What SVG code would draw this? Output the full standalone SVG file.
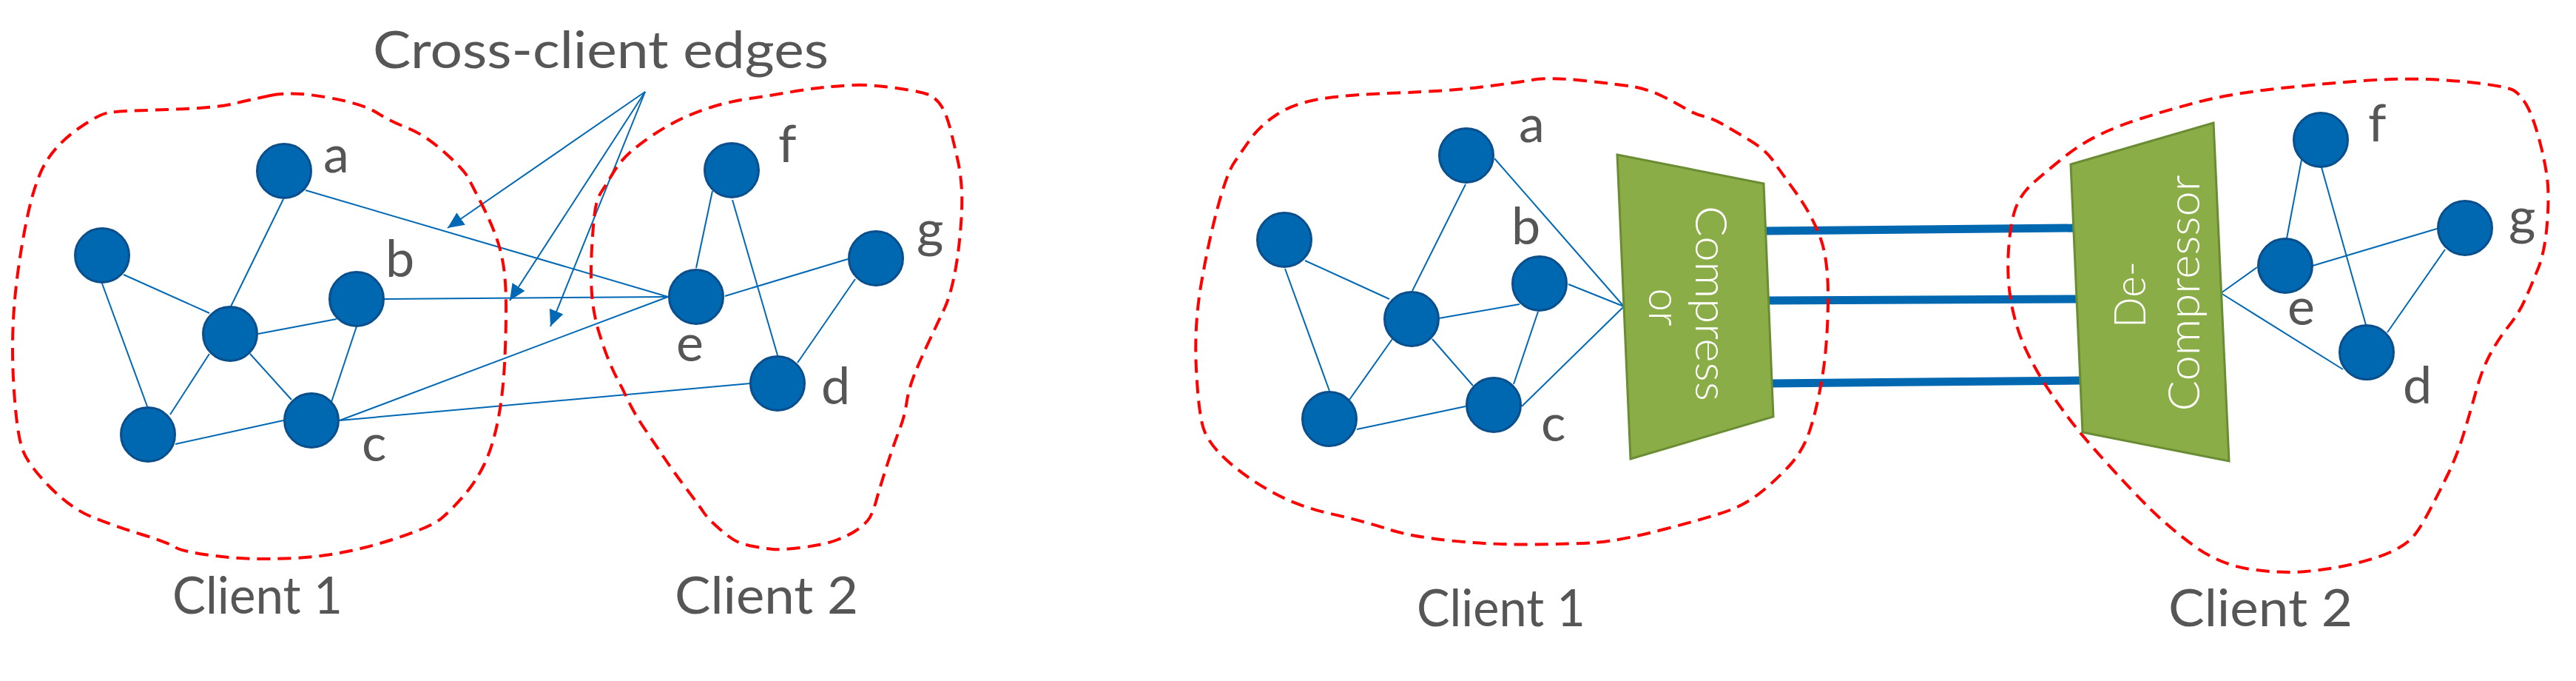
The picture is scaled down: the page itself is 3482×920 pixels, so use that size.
<svg xmlns="http://www.w3.org/2000/svg" width="3482" height="920" viewBox="0 0 3482 920">
<style>
.bg{fill:#ffffff}
.node{fill:#0067b1;stroke:#0a4f8c;stroke-width:3}
.edge{stroke:#0068b5;stroke-width:2;fill:none}
.thick{stroke:#0067b1;stroke-width:11;fill:none}
.blob{fill:none;stroke:#ff0000;stroke-width:4;stroke-dasharray:18 10}
.lbl{font-family:Lato,"Open Sans","Liberation Sans",sans-serif;font-weight:400;font-size:70px;fill:#565656}
.title{font-family:Lato,"Open Sans","Liberation Sans",sans-serif;font-weight:400;font-size:70px;fill:#565656}
.box{fill:#8bad47;stroke:#6a8c33;stroke-width:3}
.boxtxt{font-family:Lato,"Open Sans","Liberation Sans",sans-serif;font-weight:300;font-size:60px;fill:#ffffff}
</style>
<defs>
<marker id="ah" viewBox="0 0 22 20" refX="22" refY="10" markerWidth="22" markerHeight="20" markerUnits="userSpaceOnUse" orient="auto">
<path d="M0,0 L22,10 L0,20 Z" fill="#0068b5"/>
</marker>
</defs>
<rect class="bg" x="0" y="0" width="3482" height="920"/>

<g id="connectors">
<line class="edge" x1="167" y1="371" x2="283" y2="423"/>
<line class="edge" x1="138" y1="383" x2="199" y2="549"/>
<line class="edge" x1="383" y1="269" x2="312" y2="414"/>
<line class="edge" x1="349" y1="451" x2="455" y2="431"/>
<line class="edge" x1="283" y1="478" x2="230" y2="560"/>
<line class="edge" x1="338" y1="478" x2="394" y2="540"/>
<line class="edge" x1="482" y1="441" x2="448" y2="543"/>
<line class="edge" x1="237" y1="600" x2="383" y2="568"/>
<line class="edge" x1="413" y1="257" x2="903" y2="401"/>
<line class="edge" x1="520" y1="404" x2="903" y2="401"/>
<line class="edge" x1="459" y1="568" x2="903" y2="401"/>
<line class="edge" x1="459" y1="568" x2="1014" y2="518"/>
<line class="edge" x1="941" y1="362" x2="963" y2="258"/>
<line class="edge" x1="990" y1="270" x2="1051" y2="480"/>
<line class="edge" x1="980" y1="400" x2="1146" y2="350"/>
<line class="edge" x1="1156" y1="377" x2="1078" y2="490"/>
<line class="edge" x1="872" y1="124" x2="605" y2="308" marker-end="url(#ah)"/>
<line class="edge" x1="872" y1="124" x2="689" y2="406" marker-end="url(#ah)"/>
<line class="edge" x1="872" y1="124" x2="744" y2="441" marker-end="url(#ah)"/>
<line class="edge" x1="1764" y1="352" x2="1878" y2="404"/>
<line class="edge" x1="1737" y1="363" x2="1797" y2="528"/>
<line class="edge" x1="1981" y1="249" x2="1909" y2="393"/>
<line class="edge" x1="1945" y1="430" x2="2054" y2="411"/>
<line class="edge" x1="1882" y1="458" x2="1824" y2="540"/>
<line class="edge" x1="1936" y1="458" x2="1991" y2="521"/>
<line class="edge" x1="2079" y1="421" x2="2046" y2="519"/>
<line class="edge" x1="1834" y1="580" x2="1981" y2="549"/>
<line class="edge" x1="2020" y1="214" x2="2195" y2="414"/>
<line class="edge" x1="2120" y1="384" x2="2195" y2="414"/>
<line class="edge" x1="2057" y1="549" x2="2195" y2="414"/>
<line class="thick" x1="2386" y1="312" x2="2808" y2="308"/>
<line class="thick" x1="2389" y1="406" x2="2809" y2="404"/>
<line class="thick" x1="2393" y1="518" x2="2812" y2="514"/>
<line class="edge" x1="3091" y1="322" x2="3111" y2="216"/>
<line class="edge" x1="3138" y1="226" x2="3198" y2="439"/>
<line class="edge" x1="3126" y1="359" x2="3294" y2="309"/>
<line class="edge" x1="3305" y1="337" x2="3227" y2="449"/>
<line class="edge" x1="3002" y1="396" x2="3051" y2="361"/>
<line class="edge" x1="3002" y1="396" x2="3167" y2="499"/>
</g>

<g id="client-boundaries">
<path id="blob-left-c1" class="blob" d="M365.5,129 Q394,123 442,131.5 Q490,140 509,152 Q528,164 551,173 Q574,182 600.5,205.5 Q627,229 633,240.5 Q639,252 652.5,278.5 Q666,305 673.5,328.5 Q681,352 683,381.5 Q685,411 683,469.5 Q681,528 673.5,566 Q666,604 654.5,627.5 Q643,651 627.5,669 Q612,687 597,700 Q582,713 520.5,732 Q459,751 398,754 Q337,757 291,751 Q245,745 237.5,739.5 Q230,734 191.5,722 Q153,710 124.5,698.5 Q96,687 67,657.5 Q38,628 30.5,607.5 Q23,587 19,528 Q15,469 19,416.5 Q23,364 34.5,305 Q46,246 61.5,220 Q77,194 105.5,174 Q134,154 147.5,152 Q161,150 226,148 Q291,146 314,140.5 Q337,135 365.5,129 Z"/>
<path id="blob-left-c2" class="blob" d="M1154,115 Q1175,114 1211.5,119 Q1248,124 1257.5,129 Q1267,134 1273.5,145 Q1280,156 1285,176 Q1290,196 1294.5,216 Q1299,236 1300,258.5 Q1301,281 1298,314.5 Q1295,348 1289.5,374.5 Q1284,401 1276.5,417 Q1269,433 1256.5,459.5 Q1244,486 1236,506 Q1228,526 1225.5,544 Q1223,562 1216,580 Q1209,598 1199.5,627 Q1190,656 1184.5,676 Q1179,696 1173,703 Q1167,710 1157.5,716.5 Q1148,723 1131,729.5 Q1114,736 1085,739.5 Q1056,743 1044.5,742 Q1033,741 1018,738 Q1003,735 995,731 Q987,727 972,714 Q957,701 951,692 Q945,683 928,660.5 Q911,638 897.5,618 Q884,598 870.5,578 Q857,558 848.5,540 Q840,522 835,513 Q830,504 823.5,488.5 Q817,473 809.5,448.5 Q802,424 800,397 Q798,370 800,334.5 Q802,299 804.5,283.5 Q807,268 813,259 Q819,250 828.5,234 Q838,218 851.5,206 Q865,194 884,181.5 Q903,169 922,160 Q941,151 964,144 Q987,137 1014,133 Q1041,129 1067.5,124.5 Q1094,120 1113.5,118 Q1133,116 1154,115 Z"/>
<path id="blob-right-c1" class="blob" d="M2071,108 Q2095,104 2141.5,109 Q2188,114 2207,117 Q2226,120 2245,129 Q2264,138 2277,146 Q2290,154 2302.5,157 Q2315,160 2328,167.5 Q2341,175 2363.5,188.5 Q2386,202 2395.5,215.5 Q2405,229 2427,259.5 Q2449,290 2460.5,321 Q2472,352 2471,410.5 Q2470,469 2463,510.5 Q2456,552 2446.5,581 Q2437,610 2417.5,630.5 Q2398,651 2379,666 Q2360,681 2337.5,689.5 Q2315,698 2251.5,714.5 Q2188,731 2156,733 Q2124,735 2070,735.5 Q2016,736 1961.5,730.5 Q1907,725 1875,714.5 Q1843,704 1798.5,694 Q1754,684 1719,664.5 Q1684,645 1658.5,622 Q1633,599 1626.5,578 Q1620,557 1617,498.5 Q1614,440 1623.5,384.5 Q1633,329 1645.5,282 Q1658,235 1668,220 Q1678,205 1690.5,187.5 Q1703,170 1725.5,155 Q1748,140 1783,134 Q1818,128 1888,125.5 Q1958,123 2002.5,117.5 Q2047,112 2071,108 Z"/>
<path id="blob-right-c2" class="blob" d="M3195,109 Q3264,104 3326.5,110 Q3389,116 3398.5,122.5 Q3408,129 3416,143.5 Q3424,158 3432,187.5 Q3440,217 3443,240.5 Q3446,264 3443,302 Q3440,340 3430.5,363.5 Q3421,387 3413,405 Q3405,423 3391,440.5 Q3377,458 3366,478.5 Q3355,499 3347,528 Q3339,557 3330,586.5 Q3321,616 3308,642.5 Q3295,669 3282.5,692.5 Q3270,716 3261,726 Q3252,736 3233,745 Q3214,754 3182.5,761.5 Q3151,769 3117,772 Q3083,775 3042,769 Q3001,763 2966.5,738 Q2932,713 2904,685 Q2876,657 2844.5,622 Q2813,587 2797.5,566.5 Q2782,546 2766.5,522.5 Q2751,499 2738.5,472.5 Q2726,446 2719.5,413.5 Q2713,381 2714.5,346 Q2716,311 2722.5,287.5 Q2729,264 2749,246.5 Q2769,229 2791,211.5 Q2813,194 2838,182 Q2863,170 2894.5,160 Q2926,150 2966.5,139 Q3007,128 3066.5,121 Q3126,114 3195,109 Z"/>
</g>

<g id="title"><text class="title" x="504" y="92" textLength="616" lengthAdjust="spacingAndGlyphs">Cross-client edges</text></g>

<g id="L-a"><circle class="node" cx="384" cy="231" r="36.5"/><text class="lbl" x="437" y="233">a</text></g>
<g id="L-n1"><circle class="node" cx="138" cy="345" r="36.5"/></g>
<g id="L-b"><circle class="node" cx="482" cy="404" r="36.5"/><text class="lbl" x="521" y="374">b</text></g>
<g id="L-n2"><circle class="node" cx="311" cy="451" r="36.5"/></g>
<g id="L-n3"><circle class="node" cx="200" cy="587" r="36.5"/></g>
<g id="L-c"><circle class="node" cx="421" cy="568" r="36.5"/><text class="lbl" x="489" y="623">c</text></g>
<g id="L-e"><circle class="node" cx="941" cy="401" r="36.5"/><text class="lbl" x="914" y="488">e</text></g>
<g id="L-f"><circle class="node" cx="989" cy="230" r="36.5"/><text class="lbl" x="1052" y="219">f</text></g>
<g id="L-g"><circle class="node" cx="1184" cy="349" r="36.5"/><text class="lbl" x="1239" y="334">g</text></g>
<g id="L-d"><circle class="node" cx="1051" cy="518" r="36.5"/><text class="lbl" x="1110" y="546">d</text></g>
<g id="L-client1"><text class="lbl" x="233" y="829" textLength="230" lengthAdjust="spacingAndGlyphs">Client 1</text></g>
<g id="L-client2"><text class="lbl" x="912" y="829" textLength="248" lengthAdjust="spacingAndGlyphs">Client 2</text></g>

<g id="R-a"><circle class="node" cx="1982" cy="210" r="36.5"/><text class="lbl" x="2053" y="192">a</text></g>
<g id="R-n1"><circle class="node" cx="1736" cy="324" r="36.5"/></g>
<g id="R-b"><circle class="node" cx="2081" cy="383" r="36.5"/><text class="lbl" x="2043" y="330">b</text></g>
<g id="R-n2"><circle class="node" cx="1908" cy="431" r="36.5"/></g>
<g id="R-n3"><circle class="node" cx="1797" cy="566" r="36.5"/></g>
<g id="R-c"><circle class="node" cx="2019" cy="547" r="36.5"/><text class="lbl" x="2083" y="596">c</text></g>
<g id="compressor"><path class="box" d="M2186,209 L2384,248 L2397,563 L2204,620 Z"/>
<text class="boxtxt" transform="translate(2292,410) rotate(90)" text-anchor="middle" textLength="264" lengthAdjust="spacingAndGlyphs">Compress</text>
<text class="boxtxt" transform="translate(2229,415) rotate(90)" text-anchor="middle" textLength="51" lengthAdjust="spacingAndGlyphs">or</text></g>
<g id="decompressor"><path class="box" d="M2799,222 L2992,166 L3013,623 L2815,584 Z"/>
<text class="boxtxt" transform="translate(2900,398) rotate(-90)" text-anchor="middle" textLength="90" lengthAdjust="spacingAndGlyphs">De-</text>
<text class="boxtxt" transform="translate(2973,396) rotate(-90)" text-anchor="middle" textLength="319" lengthAdjust="spacingAndGlyphs">Compressor</text></g>
<g id="R-f"><circle class="node" cx="3137" cy="189" r="36.5"/><text class="lbl" x="3201" y="191">f</text></g>
<g id="R-e"><circle class="node" cx="3089" cy="359" r="36.5"/><text class="lbl" x="3092" y="439">e</text></g>
<g id="R-g"><circle class="node" cx="3332" cy="308" r="36.5"/><text class="lbl" x="3391" y="317">g</text></g>
<g id="R-d"><circle class="node" cx="3199" cy="476" r="36.5"/><text class="lbl" x="3248" y="545">d</text></g>
<g id="R-client1"><text class="lbl" x="1915" y="846" textLength="228" lengthAdjust="spacingAndGlyphs">Client 1</text></g>
<g id="R-client2"><text class="lbl" x="2931" y="846" textLength="249" lengthAdjust="spacingAndGlyphs">Client 2</text></g>
</svg>
